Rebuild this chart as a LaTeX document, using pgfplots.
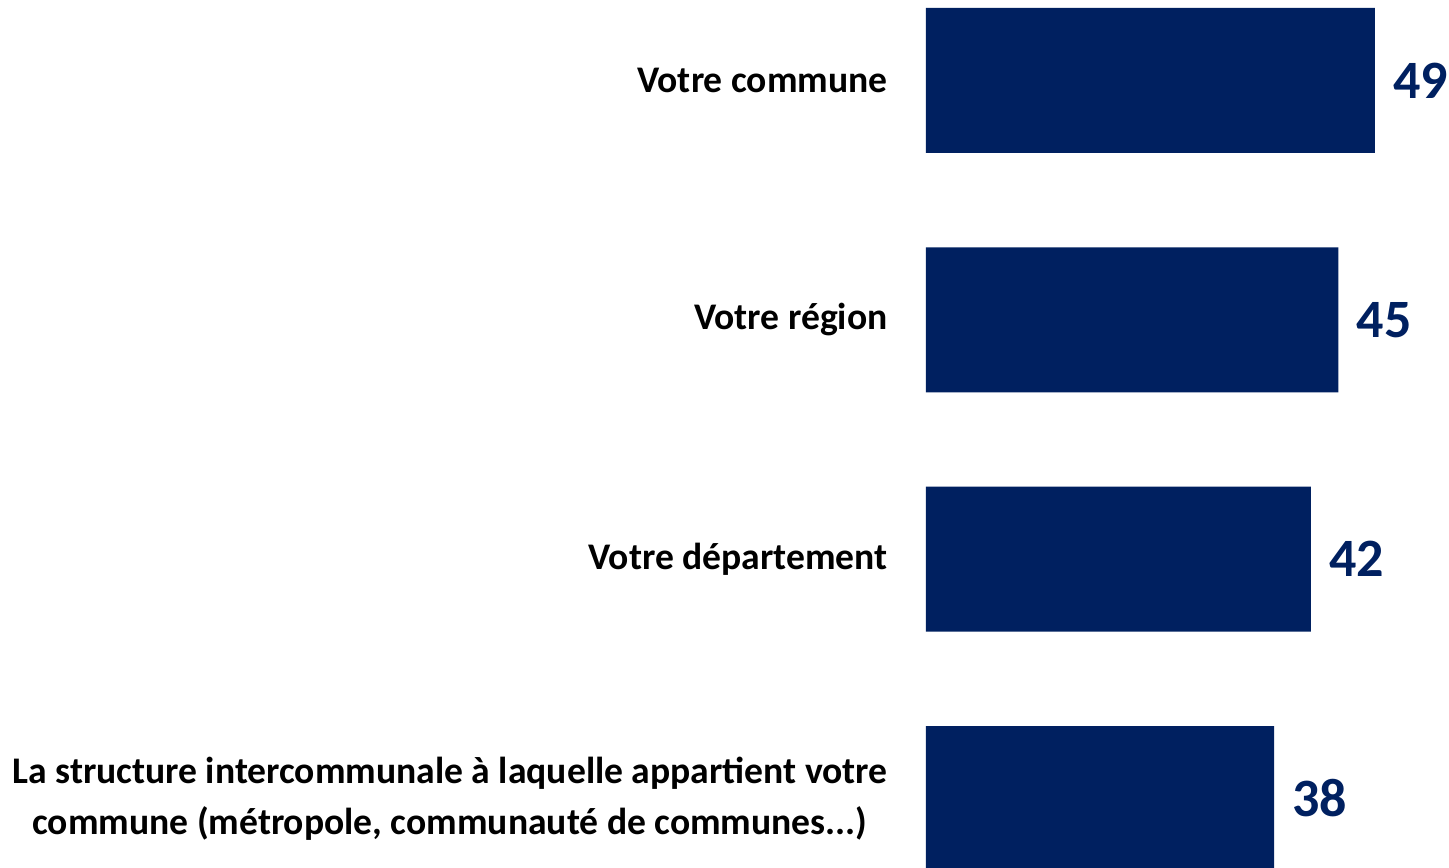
\documentclass[border=0pt]{standalone}
\usepackage{fontspec}
\setmainfont{Carlito}
\usepackage{pgfplots}
\pgfplotsset{compat=1.18}
\definecolor{navy}{HTML}{002060}

\begin{document}
\begin{tikzpicture}
\begin{axis}[
  name=ax,
  xbar,
  scale only axis,
  width=261.5pt, height=433.5pt,
  xmin=0, xmax=57.08,
  ymin=-0.286, ymax=3.336,
  bar width=72.5pt,
  axis line style={draw=none},
  tick style={draw=none},
  major tick length=0pt,
  ytick pos=left,
  xtick=\empty,
  ytick={0,1,2,3},
  yticklabels={{La structure intercommunale à laquelle appartient votre\\commune (métropole, communauté de communes.{}.{}.)},
    Votre département, Votre région, Votre commune},
  yticklabel style={font=\fontsize{18.8}{25.3}\selectfont\bfseries, align=center,
    inner sep=0pt, xshift=-19pt, text=black},
  /pgf/number format/assume math mode=true,
  nodes near coords,
  nodes near coords style={font=\fontsize{27}{32}\selectfont\bfseries, text=navy,
    anchor=west, inner sep=0pt, xshift=9pt},
]
%% bottom to top
\addplot[draw=none, fill=navy] coordinates {
  (38,0) (42,1) (45,2) (49,3)
};
\end{axis}
\path ([xshift=-463pt]ax.south west) rectangle (ax.north east);
\end{tikzpicture}
\end{document}
